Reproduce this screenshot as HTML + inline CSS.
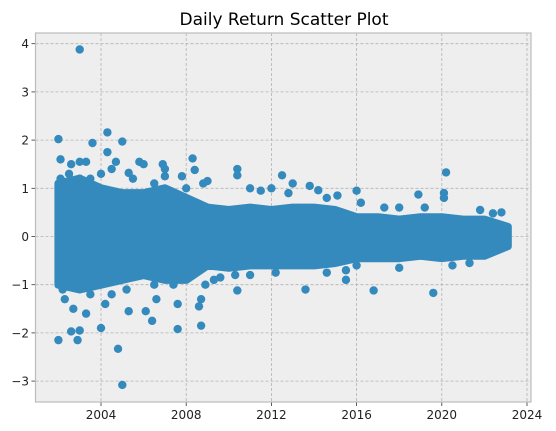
<!DOCTYPE html>
<html><head><meta charset="utf-8"><style>
body{margin:0;background:#fff;}
svg{display:block;font-family:"DejaVu Sans","Liberation Sans",sans-serif;}
</style></head><body>
<svg id="chart" width="556" height="431" viewBox="0 0 556 431" xmlns="http://www.w3.org/2000/svg">
<text x="284" y="25" text-anchor="middle" font-size="17" fill="#000">Daily Return Scatter Plot</text>
<rect x="35.5" y="33" width="495.5" height="369" fill="#eeeeee"/>
<g id="grid"></g><g id="marks"></g><g id="axes"></g>
<rect x="35.5" y="33" width="495.5" height="369" fill="none" stroke="#bcbcbc" stroke-width="1.2"/>
</svg>
<script>
const xTicks=[2004,2008,2012,2016,2020,2024];
const yTicks=[-3,-2,-1,0,1,2,3,4];
const bandYears=[2002.0,2003,2004,2005,2006,2007,2008,2009,2010,2011,2012,2013,2014,2015,2016,2017,2018,2019,2020,2021,2022,2023.1];
const bandUpper=[1.1,1.2,1.0,0.9,0.9,1.0,0.8,0.6,0.55,0.6,0.55,0.6,0.6,0.55,0.4,0.4,0.35,0.4,0.4,0.35,0.35,0.2];
const bandLower=[-1.0,-1.1,-1.0,-0.9,-0.8,-0.9,-0.9,-0.6,-0.65,-0.6,-0.6,-0.6,-0.6,-0.55,-0.45,-0.45,-0.45,-0.4,-0.45,-0.4,-0.4,-0.2];
const outlierYears=[2002.0,2002.1,2002.6,2003.0,2003.0,2003.3,2003.6,2004.3,2004.3,2004.5,2004.7,2005.0,2005.3,2005.8,2006.0,2006.9,2007.0,2007.8,2008.3,2008.4,2009.0,2010.4,2010.4,2011.0,2012.0,2012.5,2013.0,2013.8,2014.2,2015.1,2016.0,2018.9,2020.2,2020.1,2020.1,2022.4,
2002.0,2002.3,2002.9,2003.0,2002.6,2003.3,2004.0,2004.8,2005.0,2005.3,2006.1,2006.4,2006.6,2007.6,2007.6,2008.6,2008.7,2008.7,2009.3,2010.4,2010.3,2013.6,2015.5,2016.8,2019.6,2015.5,
2002.1,2002.5,2003.0,2003.5,2004.0,2005.5,2007.0,2006.5,2008.0,2008.8,2011.5,2012.8,2014.6,2016.2,2017.3,2018.0,2019.2,2021.8,2022.8,
2002.2,2002.7,2003.5,2004.2,2004.5,2005.2,2006.5,2007.4,2008.9,2009.6,2011.0,2012.2,2014.6,2016.0,2018.0,2020.5,2021.3];
const outlierValues=[2.02,1.6,1.5,3.88,1.55,1.55,1.94,2.16,1.75,1.4,1.55,1.97,1.32,1.55,1.5,1.5,1.4,1.25,1.62,1.38,1.15,1.4,1.27,1.0,1.0,1.27,1.1,1.05,0.96,0.85,0.95,0.87,1.33,0.9,0.8,0.48,
-2.15,-1.3,-2.15,-1.95,-1.97,-1.6,-1.9,-2.33,-3.08,-1.55,-1.55,-1.75,-1.3,-1.92,-1.4,-1.45,-1.85,-1.3,-0.9,-1.12,-0.8,-1.1,-0.9,-1.12,-1.17,-0.7,
1.2,1.3,1.2,1.2,1.3,1.2,1.25,1.1,1.0,1.1,0.95,0.9,0.8,0.7,0.6,0.6,0.6,0.55,0.5,
-1.1,-1.5,-1.2,-1.4,-1.2,-1.1,-1.0,-1.0,-1.0,-0.85,-0.8,-0.75,-0.75,-0.6,-0.65,-0.6,-0.55];
const NS="http://www.w3.org/2000/svg";
const xs=v=>101+(v-2004)*21.3;
const ys=v=>236.5-v*48.2;
const C="#348ABD";
function mk(tag,attrs,parent){const e=document.createElementNS(NS,tag);for(const k in attrs)e.setAttribute(k,attrs[k]);parent.appendChild(e);return e;}
const grid=document.getElementById('grid'),marks=document.getElementById('marks'),axes=document.getElementById('axes');
xTicks.forEach(t=>{
 const g=mk('line',{x1:xs(t),x2:xs(t),y1:33,y2:402,stroke:'#b2b2b2','stroke-dasharray':'3,2','stroke-width':0.8},grid);
 
 
 const tk=mk('line',{x1:xs(t),x2:xs(t),y1:402,y2:406,stroke:'#333','stroke-width':0.8},axes);
 
 
 const l=mk('text',{x:xs(t),y:419,'text-anchor':'middle','font-size':12,fill:'#222'},axes);
 l.textContent=t;
 
 
});
yTicks.forEach(t=>{
 const g=mk('line',{x1:35.5,x2:531,y1:ys(t),y2:ys(t),stroke:'#b2b2b2','stroke-dasharray':'3,2','stroke-width':0.8},grid);
 
 
 const tk=mk('line',{x1:31.5,x2:35.5,y1:ys(t),y2:ys(t),stroke:'#333','stroke-width':0.8},axes);
 
 
 const l=mk('text',{x:29,y:ys(t)+4.5,'text-anchor':'end','font-size':12,fill:'#222'},axes);
 l.textContent=(t<0?'\u2212'+(-t):t);
 
 
});
let pts=bandYears.map((y,i)=>xs(y)+','+ys(bandUpper[i]));
for(let i=bandYears.length-1;i>=0;i--)pts.push(xs(bandYears[i])+','+ys(bandLower[i]));
const band=mk('polygon',{points:pts.join(' '),fill:C,stroke:C,'stroke-width':8,'stroke-linejoin':'round'},marks);


outlierYears.forEach((y,i)=>{
 const c=mk('circle',{cx:xs(y),cy:ys(outlierValues[i]),r:4.2,fill:C},marks);
 
 
});
</script>
</body></html>
